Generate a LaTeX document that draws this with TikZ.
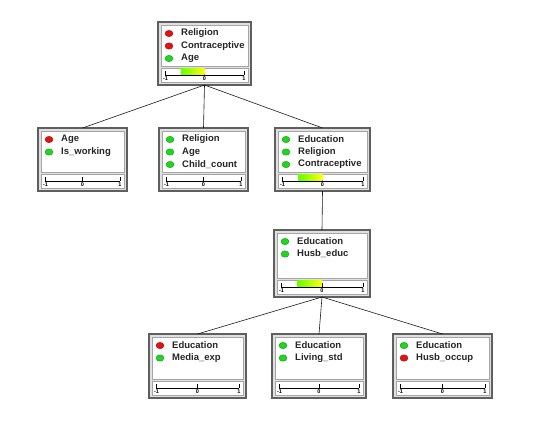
\documentclass[tikz,border=0pt]{standalone}
\usepackage{fontspec}
\setmainfont{Liberation Sans}
\usetikzlibrary{calc}
\definecolor{dotred}{RGB}{225,20,20}
\definecolor{dotgreen}{RGB}{30,215,30}
\definecolor{framegray}{RGB}{95,95,95}
\definecolor{panelgray}{RGB}{165,165,165}
\tikzset{
  boxframe/.style={draw=framegray, line width=1.3pt, fill=black!12, rectangle, inner sep=0pt, outer sep=0pt},
  panel/.style={fill=white, draw=panelgray, line width=0.6pt},
  link/.style={draw=black!90, line width=0.6pt},
  rowtext/.style={font=\fontsize{9.5}{10}\selectfont\bfseries, anchor=west, inner sep=0pt, text=black!85},
  ticklabel/.style={font=\fontsize{5.5}{5.5}\selectfont\bfseries, inner sep=0pt},
  dotstyle/.style={line width=0.4pt}
}
% name, x, y, w, h
\newcommand{\treebox}[5]{%
  \node[boxframe, minimum width=#4pt, minimum height=#5pt, anchor=north west] (#1) at (#2,#3) {};
  \draw[panel] (#2+3,#3+3) rectangle (#2+#4-3,#3+#5-19);
  \draw[panel] (#2+3,#3+#5-17) rectangle (#2+#4-3,#3+#5-2.5);
  \draw[line width=0.7pt] (#2+7,#3+#5-10) -- (#2+#4-7,#3+#5-10);
  \draw[line width=0.5pt] (#2+7,#3+#5-10) -- (#2+7,#3+#5-14);
  \draw[line width=0.5pt] (#2+#4/2,#3+#5-10) -- (#2+#4/2,#3+#5-14);
  \draw[line width=0.5pt] (#2+#4-7,#3+#5-10) -- (#2+#4-7,#3+#5-14);
  \node[ticklabel] at (#2+7.5,#3+#5-6) {-1};
  \node[ticklabel] at (#2+#4/2,#3+#5-6) {0};
  \node[ticklabel] at (#2+#4-7,#3+#5-6) {1};
}
% bar: x, y, w, h
\newcommand{\treebar}[4]{%
  \shade[left color=green!60!yellow, right color=yellow!95!white] (#1+7+0.2*#3-2.8,#2+#4-16.5) rectangle (#1+#3/2,#2+#4-10.6);
}
% x, y, row, colour, text
\newcommand{\treerow}[5]{%
  \fill[#4, draw=#4!70!black, dotstyle] (#1+11,#2+11.5+12.5*#3) ellipse (4pt and 3.2pt);
  \node[rowtext] at (#1+23,#2+11.5+12.5*#3) {#5};
}
\begin{document}
\begin{tikzpicture}[x=1pt,y=-1pt]
\useasboundingbox (0,0) rectangle (543,439);
% top
\treebox{A}{158}{22}{93}{63}
\treebar{158}{22}{93}{63}
\treerow{158}{22}{0}{dotred}{Religion}
\treerow{158}{22}{1}{dotred}{Contraceptive}
\treerow{158}{22}{2}{dotgreen}{Age}
% level 2
\treebox{B}{38}{128}{89}{63}
\treerow{38}{128}{0}{dotred}{Age}
\treerow{38}{128}{1}{dotgreen}{Is\_working}
\treebox{C}{159}{128}{89}{63}
\treerow{159}{128}{0}{dotgreen}{Religion}
\treerow{159}{128}{1}{dotgreen}{Age}
\treerow{159}{128}{2}{dotgreen}{Child\_count}
\treebox{D}{275}{128}{95}{63}
\treebar{275}{128}{95}{63}
\treerow{275}{128}{0}{dotgreen}{Education}
\treerow{275}{128}{1}{dotgreen}{Religion}
\treerow{275}{128}{2}{dotgreen}{Contraceptive}
% level 3
\treebox{E}{274}{230}{96}{67}
\treebar{274}{230}{96}{67}
\treerow{274}{230}{0}{dotgreen}{Education}
\treerow{274}{230}{1}{dotgreen}{Husb\_educ}
% level 4
\treebox{F}{149}{334}{97}{64}
\treerow{149}{334}{0}{dotred}{Education}
\treerow{149}{334}{1}{dotgreen}{Media\_exp}
\treebox{G}{272}{334}{94}{64}
\treerow{272}{334}{0}{dotgreen}{Education}
\treerow{272}{334}{1}{dotgreen}{Living\_std}
\treebox{H}{393}{334}{99}{64}
\treerow{393}{334}{0}{dotgreen}{Education}
\treerow{393}{334}{1}{dotred}{Husb\_occup}
% links
\draw[link] (A.south) -- (B.north);
\draw[link] (A.south) -- (C.north);
\draw[link] (A.south) -- (D.north);
\draw[link] (D.south) -- (E.north);
\draw[link] (E.south) -- (F.north);
\draw[link] (E.south) -- (G.north);
\draw[link] (E.south) -- (H.north);
\end{tikzpicture}
\end{document}
